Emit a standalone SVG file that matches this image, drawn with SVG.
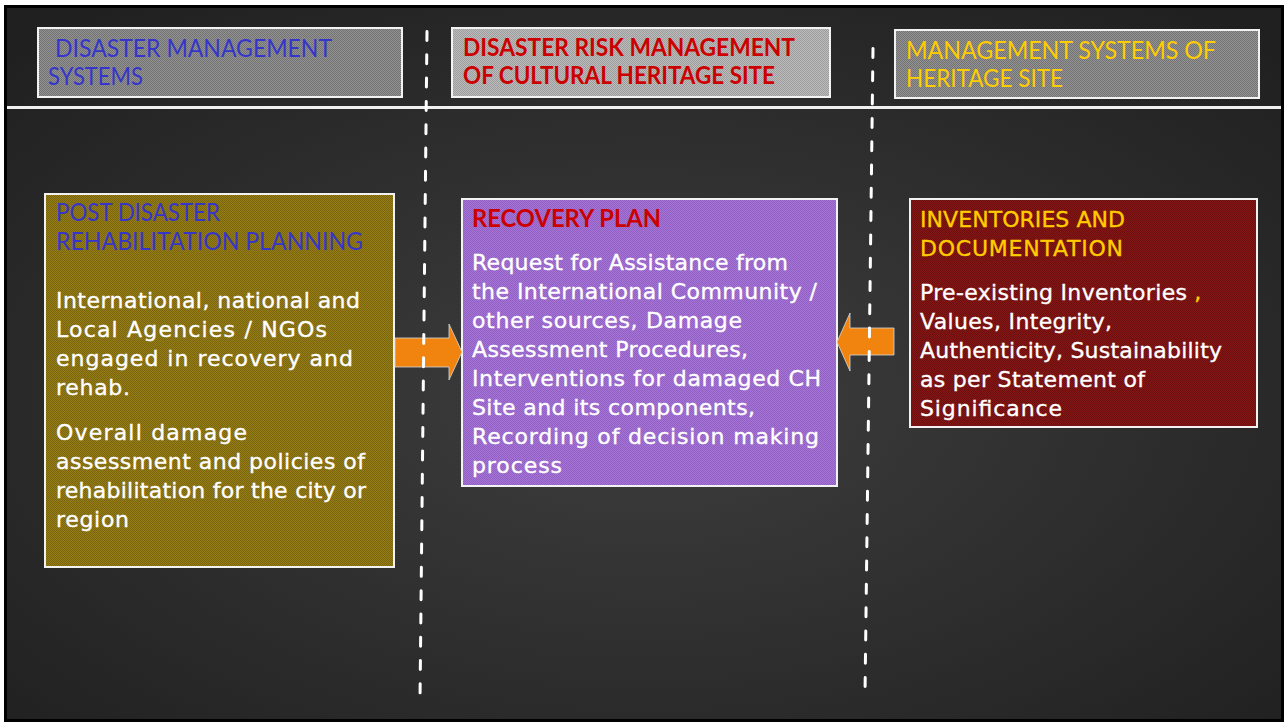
<svg xmlns="http://www.w3.org/2000/svg" width="1285" height="722" viewBox="0 0 1285 722">
<defs>
<radialGradient id="bg" cx="50%" cy="55%" r="70%">
<stop offset="0" stop-color="#3e3e3e"/>
<stop offset="1" stop-color="#202020"/>
</radialGradient>
<pattern id="p1" width="2" height="2" patternUnits="userSpaceOnUse"><rect width="2" height="2" fill="#939393"/><rect width="1" height="1" fill="#727272"/><rect x="1" y="1" width="1" height="1" fill="#727272"/></pattern>
<pattern id="p2" width="2" height="2" patternUnits="userSpaceOnUse"><rect width="2" height="2" fill="#bdbdbd"/><rect width="1" height="1" fill="#9c9c9c"/><rect x="1" y="1" width="1" height="1" fill="#9c9c9c"/></pattern>
<pattern id="p3" width="2" height="2" patternUnits="userSpaceOnUse"><rect width="2" height="2" fill="#959595"/><rect width="1" height="1" fill="#717171"/><rect x="1" y="1" width="1" height="1" fill="#717171"/></pattern>
<pattern id="pL" width="2" height="2" patternUnits="userSpaceOnUse"><rect width="2" height="2" fill="#967d15"/><rect width="1" height="1" fill="#7a650f"/><rect x="1" y="1" width="1" height="1" fill="#7a650f"/></pattern>
<pattern id="pM" width="2" height="2" patternUnits="userSpaceOnUse"><rect width="2" height="2" fill="#a775d7"/><rect width="1" height="1" fill="#8f5fc2"/><rect x="1" y="1" width="1" height="1" fill="#8f5fc2"/></pattern>
<pattern id="pR" width="2" height="2" patternUnits="userSpaceOnUse"><rect width="2" height="2" fill="#871616"/><rect width="1" height="1" fill="#6a0e0e"/><rect x="1" y="1" width="1" height="1" fill="#6a0e0e"/></pattern>
</defs>
<style>
.box{stroke:#f2f2f2;stroke-width:2}
.hd{font-family:Lato,"Liberation Sans",sans-serif;font-size:25px}
.hb{font-weight:bold}
.bd{font-family:"DejaVu Sans","Liberation Sans",sans-serif;font-size:22px;fill:#ffffff;stroke:#ffffff;stroke-width:0.35}
.bh{font-family:"DejaVu Sans","Liberation Sans",sans-serif;font-size:22px;fill:#ffcc00;stroke:#ffcc00;stroke-width:0.35}
.blue{fill:#3535cc}
.red{fill:#cc0000}
.yel{fill:#ffcc00}
.arrow{fill:#f0840f;stroke:#d8d8d8;stroke-width:0.8}
.sep{stroke:#ffffff;stroke-width:3;stroke-linecap:round;stroke-dasharray:9 14.3;fill:none}
</style>
<rect width="1285" height="722" fill="#ffffff"/>
<rect x="5.5" y="6.5" width="1277" height="714" fill="url(#bg)" stroke="#000000" stroke-width="3"/>
<line x1="7" y1="107.5" x2="1281" y2="107.5" stroke="#f0f0f0" stroke-width="3"/>

<g id="header-dms">
<rect class="box" x="38" y="28" width="364" height="69" fill="url(#p1)"/>
<text class="hd blue" x="55" y="57" textLength="277" lengthAdjust="spacingAndGlyphs">DISASTER MANAGEMENT</text>
<text class="hd blue" x="48" y="85" textLength="95" lengthAdjust="spacingAndGlyphs">SYSTEMS</text>
</g>
<g id="header-drm">
<rect class="box" x="452" y="28" width="378" height="69" fill="url(#p2)"/>
<text class="hd hb red" x="463" y="56" textLength="332" lengthAdjust="spacingAndGlyphs">DISASTER RISK MANAGEMENT</text>
<text class="hd hb red" x="463" y="84" textLength="312" lengthAdjust="spacingAndGlyphs">OF CULTURAL HERITAGE SITE</text>
</g>
<g id="header-mshs">
<rect class="box" x="895" y="30" width="364" height="68" fill="url(#p3)"/>
<text class="hd yel" x="906" y="59" textLength="310" lengthAdjust="spacingAndGlyphs">MANAGEMENT SYSTEMS OF</text>
<text class="hd yel" x="906" y="87" textLength="157" lengthAdjust="spacingAndGlyphs">HERITAGE SITE</text>
</g>

<g id="node-post-disaster">
<rect class="box" x="45" y="194" width="349" height="373" fill="url(#pL)"/>
<text class="hd blue" x="56" y="221" textLength="164" lengthAdjust="spacingAndGlyphs">POST DISASTER</text>
<text class="hd blue" x="56" y="250" textLength="307" lengthAdjust="spacingAndGlyphs">REHABILITATION PLANNING</text>
<text class="bd" x="56" y="308" textLength="304">International, national and</text>
<text class="bd" x="56" y="337" textLength="271">Local Agencies / NGOs</text>
<text class="bd" x="56" y="366" textLength="297">engaged in recovery and</text>
<text class="bd" x="56" y="395" textLength="74">rehab.</text>
<text class="bd" x="56" y="440" textLength="191">Overall damage</text>
<text class="bd" x="56" y="469" textLength="309">assessment and policies of</text>
<text class="bd" x="56" y="498" textLength="310">rehabilitation for the city or</text>
<text class="bd" x="56" y="527" textLength="73">region</text>
</g>

<g id="node-recovery-plan">
<rect class="box" x="462" y="199" width="375" height="287" fill="url(#pM)"/>
<text class="hd hb red" x="472" y="227" textLength="189" lengthAdjust="spacingAndGlyphs">RECOVERY PLAN</text>
<text class="bd" x="472" y="270" textLength="316">Request for Assistance from</text>
<text class="bd" x="472" y="299" textLength="345">the International Community /</text>
<text class="bd" x="472" y="328" textLength="270">other sources, Damage</text>
<text class="bd" x="472" y="357" textLength="276">Assessment Procedures,</text>
<text class="bd" x="472" y="386" textLength="349">Interventions for damaged CH</text>
<text class="bd" x="472" y="415" textLength="283">Site and its components,</text>
<text class="bd" x="472" y="444" textLength="347">Recording of decision making</text>
<text class="bd" x="472" y="473" textLength="90">process</text>
</g>

<g id="node-inventories">
<rect class="box" x="910" y="199" width="347" height="228" fill="url(#pR)"/>
<text class="bh" x="920" y="227" textLength="205">INVENTORIES AND</text>
<text class="bh" x="920" y="256" textLength="203">DOCUMENTATION</text>
<text class="bd" x="920" y="300"><tspan textLength="267">Pre-existing Inventories</tspan><tspan fill="#ffcc00" stroke="#ffcc00"> ,</tspan></text>
<text class="bd" x="920" y="329" textLength="192">Values, Integrity,</text>
<text class="bd" x="920" y="358" textLength="302">Authenticity, Sustainability</text>
<text class="bd" x="920" y="387" textLength="225">as per Statement of</text>
<text class="bd" x="920" y="416" textLength="142">Significance</text>
</g>

<g id="connectors">
<polygon class="arrow" points="395,338 449,338 449,324 462,352 449,380 449,367 395,367"/>
<polygon class="arrow" points="894,328 850,328 850,313 837,342 850,371 850,355 894,355"/>
</g>

<g id="separators">
<line class="sep" x1="427" y1="31.5" x2="420" y2="700"/>
<line class="sep" x1="873" y1="48.5" x2="865" y2="695"/>
</g>
</svg>
